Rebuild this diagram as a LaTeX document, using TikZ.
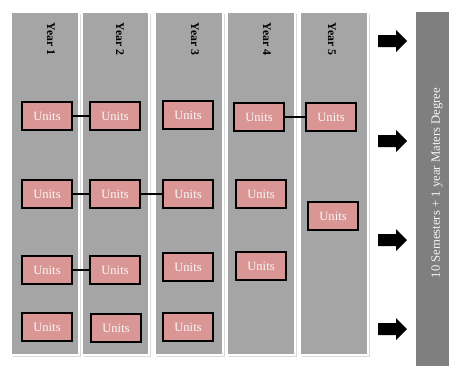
\documentclass[tikz,border=0pt]{standalone}
\usepackage{fontspec}
\setmainfont{Liberation Serif}
\usetikzlibrary{shadows}
\definecolor{colgray}{HTML}{A5A5A5}
\definecolor{bargray}{HTML}{7F7F7F}
\definecolor{unitpink}{HTML}{D99694}
\begin{document}
\begin{tikzpicture}[x=1pt,y=-1pt,
  yearcol/.style={draw=white, line width=1.2pt, fill=colgray, anchor=north west,
    inner sep=0pt, outer sep=0pt},
  unitbox/.style={draw=black, line width=1.1pt, fill=unitpink, minimum width=50pt,
    minimum height=28pt, inner sep=0pt, text=white!95!gray,
    font=\fontsize{12.6}{14}\selectfont,
    drop shadow={opacity=0.35, shadow xshift=1.2pt, shadow yshift=-1.2pt}},
  yearlabel/.style={rotate=-90, font=\bfseries\fontsize{11.8}{13}\selectfont, inner sep=0pt},
  link/.style={draw=black, line width=2pt},
  blockarrow/.style={fill=black}
]
\useasboundingbox (0,0) rectangle (449,365);

% year columns with a faint outer edge
\foreach \x/\w [count=\i] in {11/68, 82/67, 155/68, 227/68, 300/68}{
  \fill[gray!30] (\x+1.5,13.5) rectangle (\x+\w+1.5,356.5);
  \node[yearcol, minimum width=\w pt, minimum height=343pt] (col\i) at (\x,12) {};
}

% degree bar
\node[fill=bargray, anchor=north west, minimum width=34pt, minimum height=354pt,
  inner sep=0pt] (bar) at (416,12) {};
\node[rotate=90, text=white!92!gray, font=\fontsize{12.7}{14}\selectfont, inner sep=0pt]
  (degree) at (437,183) {10 Semesters + 1 year Maters Degree};

% year labels
\node[yearlabel] (y1) at (51,39) {Year 1};
\node[yearlabel] (y2) at (120,39) {Year 2};
\node[yearlabel] (y3) at (195,39) {Year 3};
\node[yearlabel] (y4) at (267,39) {Year 4};
\node[yearlabel] (y5) at (332,39) {Year 5};

% units
\node[unitbox] (u11) at (47,116) {Units};
\node[unitbox] (u12) at (115,116) {Units};
\node[unitbox] (u13) at (188,115) {Units};
\node[unitbox] (u14) at (259,117) {Units};
\node[unitbox] (u15) at (331,117) {Units};

\node[unitbox] (u21) at (47,194) {Units};
\node[unitbox] (u22) at (115,194) {Units};
\node[unitbox] (u23) at (188,194) {Units};
\node[unitbox] (u24) at (261,194) {Units};
\node[unitbox] (u25) at (333,216) {Units};

\node[unitbox] (u31) at (47,270) {Units};
\node[unitbox] (u32) at (115,270) {Units};
\node[unitbox] (u33) at (188,267) {Units};
\node[unitbox] (u34) at (261,266) {Units};

\node[unitbox] (u41) at (47,327) {Units};
\node[unitbox] (u42) at (116,328) {Units};
\node[unitbox] (u43) at (188,327) {Units};

% prerequisite links
\draw[link] (u11) -- (u12);
\draw[link] (u14) -- (u15);
\draw[link] (u21) -- (u22);
\draw[link] (u22) -- (u23);
\draw[link] (u31) -- (u32);

% block arrows towards the degree bar
\foreach \y [count=\i] in {41,141,240,329}{
  \coordinate (a\i) at (378,\y);
  \fill[blockarrow] (a\i) ++(0,-6) -- ++(18,0) -- ++(0,-5) -- ++(11,11)
    -- ++(-11,11) -- ++(0,-5) -- ++(-18,0) -- cycle;
}
\end{tikzpicture}
\end{document}
